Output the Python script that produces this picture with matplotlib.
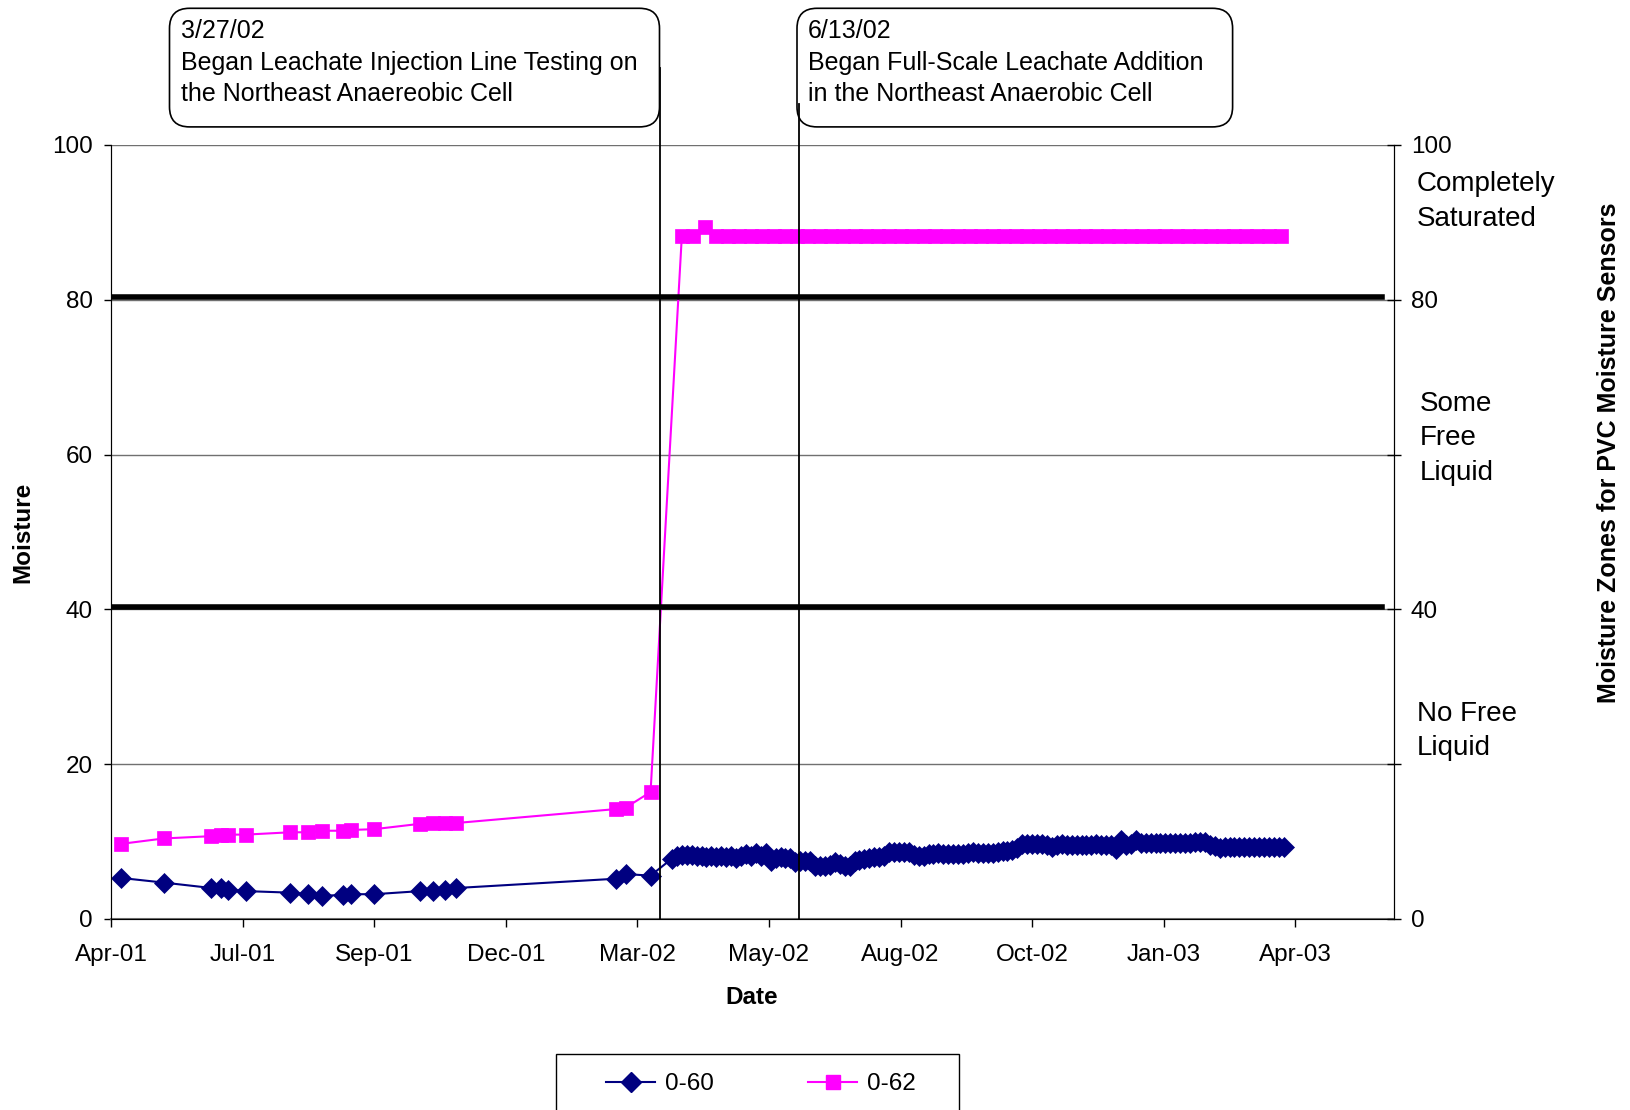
import matplotlib
matplotlib.use('Agg')
import matplotlib.pyplot as plt
from matplotlib.patches import FancyBboxPatch, Rectangle
from matplotlib.lines import Line2D
import pandas as pd

plt.rcParams['font.family'] = 'Liberation Sans'
FS = 17.5

# sparse readings, Apr 2001 - Mar 2002 (same dates for both sensors)
early_dates = ['2001-04-25', '2001-05-21', '2001-06-19', '2001-06-25', '2001-06-29',
               '2001-07-10', '2001-08-06', '2001-08-17', '2001-08-25', '2001-09-07',
               '2001-09-12', '2001-09-26', '2001-10-24', '2001-11-01', '2001-11-08',
               '2001-11-15', '2002-02-20', '2002-02-26', '2002-03-13']
s060_early = [5.3, 4.7, 4.0, 4.0, 3.8, 3.6, 3.4, 3.2, 3.0, 3.1,
              3.2, 3.2, 3.6, 3.6, 3.8, 4.0, 5.2, 5.8, 5.6]
s062_early = [9.7, 10.4, 10.7, 10.9, 10.9, 10.9, 11.2, 11.2, 11.4, 11.4,
              11.5, 11.6, 12.3, 12.4, 12.4, 12.4, 14.2, 14.4, 16.4]

# dense readings after injection started
s060_dense_start = '2002-03-26'   # every 3 days
s060_dense = [7.8, 8.2, 8.3, 8.3, 8.3, 8.2, 8.1, 8.0, 8.1, 8.0,
              8.1, 8.0, 8.1, 7.9, 8.2, 8.4, 8.2, 8.5, 8.2, 8.5,
              7.5, 7.9, 8.0, 7.9, 7.9, 7.4, 7.5, 7.5, 7.5, 6.9,
              6.9, 6.9, 7.0, 7.4, 7.1, 6.9, 6.9, 7.5, 7.6, 7.7,
              7.9, 8.0, 8.0, 8.2, 8.6, 8.7, 8.6, 8.7, 8.6, 8.3,
              8.2, 8.2, 8.4, 8.4, 8.5, 8.4, 8.4, 8.4, 8.4, 8.4,
              8.5, 8.6, 8.5, 8.5, 8.5, 8.5, 8.6, 8.8, 8.8, 8.9,
              9.2, 9.7, 9.7, 9.7, 9.7, 9.7, 9.6, 9.3, 9.5, 9.7,
              9.6, 9.6, 9.6, 9.6, 9.6, 9.6, 9.7, 9.6, 9.6, 9.6,
              9.1, 10.2, 9.6, 9.7, 10.2, 9.8, 9.8, 9.8, 9.8, 9.8,
              9.8, 9.8, 9.8, 9.8, 9.8, 9.8, 10.0, 10.0, 9.9, 9.6,
              9.4, 9.2, 9.3, 9.3, 9.3, 9.3, 9.3, 9.3, 9.3, 9.3,
              9.3, 9.3, 9.3, 9.3, 9.3]
s062_dense_start = '2002-04-01'   # weekly
s062_dense = [88.2, 88.3, 89.4, 88.3, 88.2, 88.2, 88.2, 88.2, 88.2, 88.2,
              88.2, 88.2, 88.2, 88.2, 88.2, 88.2, 88.2, 88.2, 88.2, 88.2,
              88.2, 88.2, 88.2, 88.2, 88.2, 88.2, 88.2, 88.2, 88.2, 88.2,
              88.2, 88.2, 88.2, 88.2, 88.2, 88.2, 88.2, 88.2, 88.2, 88.2,
              88.2, 88.2, 88.2, 88.2, 88.2, 88.2, 88.2, 88.2, 88.2, 88.2,
              88.2, 88.2, 88.2]

tick_labels = ['Apr-01', 'Jul-01', 'Sep-01', 'Dec-01', 'Mar-02',
               'May-02', 'Aug-02', 'Oct-02', 'Jan-03', 'Apr-03']
axis_start = pd.Timestamp('2001-04-19')
axis_end = pd.Timestamp('2003-06-08')

zone_lines = [80.3, 40.3]
zone_labels = ['Completely\nSaturated', 'Some\nFree\nLiquid', 'No Free\nLiquid']
zone_label_y = [92.7, 62.1, 24.3]
zone_label_x = [1.018, 1.020, 1.018]

event_dates = ['2002-03-19', '2002-06-11']
event_line_top = [110.0, 105.3]
event_text = [['3/27/02', 'Began Leachate Injection Line Testing on', 'the Northeast Anaereobic Cell'],
              ['6/13/02', 'Began Full-Scale Leachate Addition', 'in the Northeast Anaerobic Cell']]

d060 = pd.to_datetime(early_dates).append(
    pd.date_range(s060_dense_start, periods=len(s060_dense), freq='3D'))
v060 = s060_early + s060_dense
d062 = pd.to_datetime(early_dates).append(
    pd.date_range(s062_dense_start, periods=len(s062_dense), freq='7D'))
v062 = s062_early + s062_dense

fig = plt.figure(figsize=(16.31, 11.10), dpi=100)
ax = fig.add_axes([0.0681, 0.1721, 0.7866, 0.6973])

ax.plot(d062, v062, color='#FF00FF', marker='s', ms=10, mec='#FF00FF', mew=0.5,
        lw=1.5, zorder=3)
ax.plot(d060, v060, color='#000080', marker='D', ms=10.5, mec='#000080', mew=0.5,
        lw=1.5, zorder=3)

for y in zone_lines:
    ax.axhline(y, xmin=0.0, xmax=0.991, color='black', lw=4, zorder=4)

for d, top in zip(event_dates, event_line_top):
    ax.plot([pd.Timestamp(d)] * 2, [0, top], color='black', lw=1.3,
            clip_on=False, zorder=5)

ax.set_xlim(axis_start, axis_end)
ax.set_ylim(0, 100)
ax.set_xticks(pd.date_range(axis_start, periods=len(tick_labels), freq='80D'))
ax.set_xticklabels(tick_labels)
ax.set_yticks(range(0, 101, 20))
ax.grid(axis='y', color='#707070', lw=1)
ax.set_axisbelow(True)
ax.tick_params(axis='x', direction='out', length=6, width=1, pad=12, labelsize=FS)
ax.tick_params(axis='y', direction='out', length=5, width=1, pad=8, labelsize=FS)
ax.spines['top'].set_visible(False)
ax.spines['left'].set_color('#404040')
ax.spines['bottom'].set_color('#707070')
ax.spines['bottom'].set_linewidth(1.5)

ax2 = ax.twinx()
ax2.set_ylim(0, 100)
ax2.set_yticks([0, 20, 40, 60, 80, 100])
ax2.set_yticklabels(['0', '', '40', '', '80', '100'])
ax2.tick_params(axis='y', direction='inout', length=10, width=1, pad=7, labelsize=FS)
ax2.spines['top'].set_visible(False)
ax2.spines['right'].set_color('black')
for lab, x, y in zip(zone_labels, zone_label_x, zone_label_y):
    ax2.text(x, y, lab, transform=ax2.get_yaxis_transform(), ha='left',
             va='center', fontsize=20, linespacing=1.42)

fig.text(0.0141, 0.520, 'Moisture', rotation=90, ha='center', va='center',
         fontsize=FS, fontweight='bold')
fig.text(0.461, 0.1014, 'Date', ha='center', va='center', fontsize=FS,
         fontweight='bold')
fig.text(0.9866, 0.5923, 'Moisture Zones for PVC Moisture Sensors', rotation=90,
         ha='center', va='center', fontsize=18, fontweight='bold')

# callout boxes (inches)
box_x = [1.695, 7.97]
box_w = [4.90, 4.356]
for bx, bw, lines in zip(box_x, box_w, event_text):
    fig.add_artist(FancyBboxPatch((bx, 9.831), bw, 1.186,
                                  boxstyle='round,pad=0,rounding_size=0.2',
                                  transform=fig.dpi_scale_trans, facecolor='none',
                                  edgecolor='black', lw=1.2))
    for i, t in enumerate(lines):
        fig.text(bx + 0.11, 10.715 - 0.312 * i, t, transform=fig.dpi_scale_trans,
                 ha='left', va='baseline', fontsize=18)

# legend
fig.add_artist(Rectangle((0.3412, -0.05), 0.2468, 0.1007, transform=fig.transFigure,
                         fill=False, edgecolor='black', lw=1))
handles = [Line2D([], [], color='#000080', marker='D', ms=10, lw=1.5),
           Line2D([], [], color='#FF00FF', marker='s', ms=10, lw=1.5)]
fig.legend(handles, ['0-60', '0-62'], loc='center', bbox_to_anchor=(0.4666, 0.0234),
           ncol=2, frameon=False, fontsize=FS, handlelength=2.0, handletextpad=0.4,
           columnspacing=3.9)

fig.savefig('out.png', dpi=100)
